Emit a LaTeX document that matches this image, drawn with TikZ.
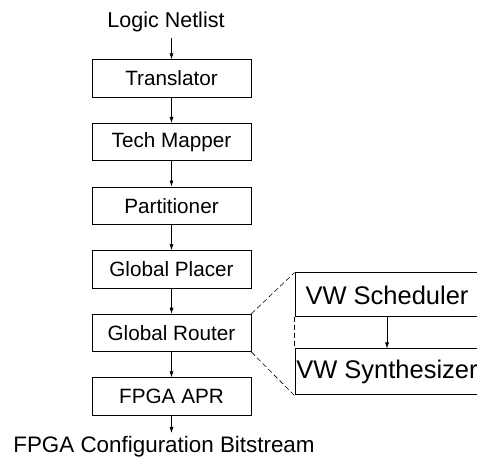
\documentclass[tikz,border=0pt]{standalone}
\usepackage{fontspec}
\setmainfont{Liberation Sans}
\usepackage{tikz}
\usetikzlibrary{arrows.meta}

\begin{document}
\begin{tikzpicture}[x=1pt,y=1pt]
  %%Styles for the boxes, texts and arrows
  \tikzset{flow arrow/.style={draw,-{Latex[length=6pt,width=4pt]},line width=0.6pt}}
  \tikzset{stage box/.style={draw,line width=0.8pt,minimum width=159pt,minimum height=37.5pt,inner sep=0pt,font=\fontsize{20.7}{24}\selectfont}}
  \tikzset{vw box/.style={draw,line width=1pt,minimum width=184pt,inner sep=0pt,font=\fontsize{25.5}{30}\selectfont}}
  \tikzset{io text/.style={anchor=base,inner sep=0pt,font=\fontsize{21.5}{25}\selectfont}}
  \tikzset{zoom line/.style={draw,dashed,line width=0.6pt,dash pattern=on 5pt off 3pt}}
  \useasboundingbox (0,0) rectangle (477,458);
  %%Input and output texts
  \node[io text] (netlist) at (166,430) {Logic Netlist};
  \node[io text,font=\fontsize{22.4}{26}\selectfont] (bits) at (164,5) {FPGA Configuration Bitstream};
  \path (171.5,420) coordinate (in);
  \path (171.5,25) coordinate (out);
  %%The stages of the flow, one under the other
  \node[stage box] (trans) at (171.5,379.5) {Translator};
  \node[stage box,below of=trans,node distance=63.6pt] (mapper) {Tech Mapper};
  \node[stage box,below of=mapper,node distance=63.6pt] (part) {Partitioner};
  \node[stage box,below of=part,node distance=63.6pt] (placer) {Global Placer};
  \node[stage box,below of=placer,node distance=63.6pt] (router) {Global Router};
  \node[stage box,below of=router,node distance=63.6pt] (apr) {FPGA APR};
  %%Inside of the global router
  \node[vw box,minimum height=44pt] (sched) at (387,163) {VW Scheduler};
  \node[vw box,minimum height=46pt] (synth) at (387,86) {VW Synthesizer};
  %%Drawing the arrows
  \path[flow arrow] (in) -- (trans);
  \foreach \from/\to in {trans/mapper,mapper/part,part/placer,placer/router,router/apr}{
    \path[flow arrow] (\from) -- (\to);
  }
  \path[flow arrow] (apr) -- (out);
  \path[flow arrow] (sched) -- (synth);
  %%Dashed lines for the zoom
  \path[zoom line] (router.north east) -- (sched.north west);
  \path[zoom line] (router.south east) -- (synth.south west);
  \path[zoom line] (sched.south west) -- (synth.north west);
\end{tikzpicture}
\end{document}
